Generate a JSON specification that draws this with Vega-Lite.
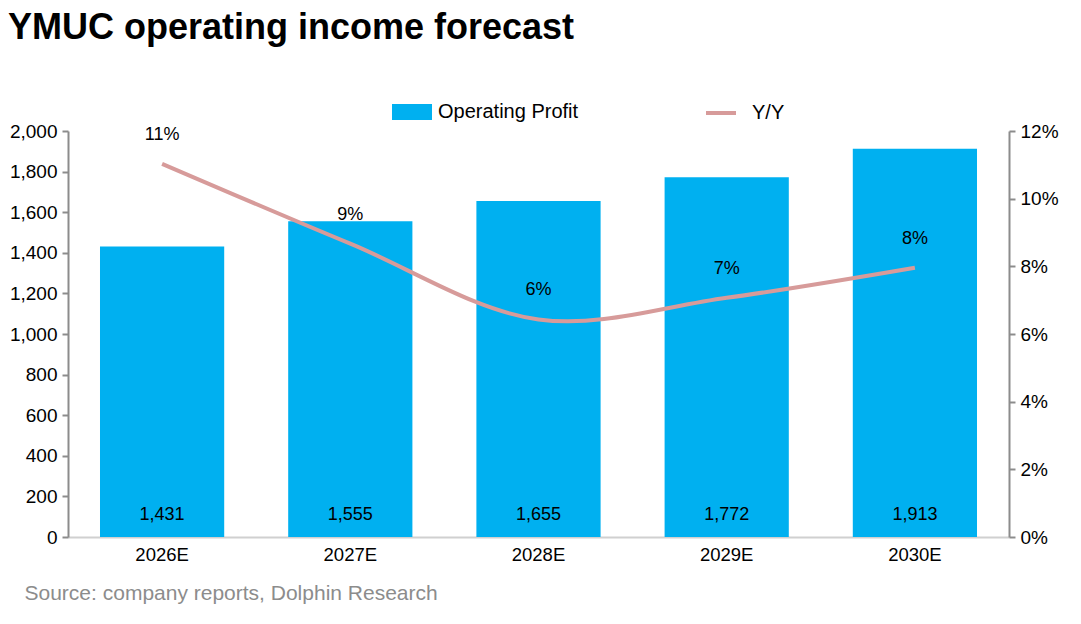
{
  "$schema": "https://vega.github.io/schema/vega-lite/v6.json",
  "width": 941,
  "height": 406,
  "autosize": {"type": "none"},
  "padding": {"left": 68, "top": 131, "right": 72, "bottom": 87},
  "background": "white",
  "title": {
    "text": "YMUC operating income forecast",
    "anchor": "start",
    "frame": "group",
    "fontSize": 36,
    "fontWeight": "bold",
    "font": "Liberation Sans",
    "color": "#000000",
    "dx": -60,
    "dy": -41
  },
  "data": {
    "values": [
      {"year": "2026E", "profit": 1431, "yoy": 0.1103},
      {"year": "2027E", "profit": 1555, "yoy": 0.0867},
      {"year": "2028E", "profit": 1655, "yoy": 0.0643},
      {"year": "2029E", "profit": 1772, "yoy": 0.0707},
      {"year": "2030E", "profit": 1913, "yoy": 0.0796}
    ]
  },
  "encoding": {
    "x": {
      "field": "year",
      "type": "nominal",
      "sort": null,
      "scale": {"paddingInner": 0.34, "paddingOuter": 0.17},
      "axis": {
        "labelAngle": 0,
        "labelFontSize": 18.5,
        "labelColor": "#000000",
        "labelPadding": 8,
        "ticks": false,
        "domainColor": "#d0d0d0",
        "domainWidth": 2,
        "title": "Source: company reports, Dolphin Research",
        "titleAnchor": "start",
        "titleAlign": "left",
        "titleX": -44,
        "titleY": 45,
        "titleFontSize": 21,
        "titleFontWeight": "normal",
        "titleColor": "#8c8c8c"
      }
    }
  },
  "layer": [
    {
      "layer": [
        {
          "mark": {"type": "bar", "color": "#00B0F0"},
          "encoding": {
            "y": {
              "field": "profit",
              "type": "quantitative",
              "scale": {"domain": [0, 2000]},
              "axis": {
                "orient": "left",
                "title": null,
                "values": [0, 200, 400, 600, 800, 1000, 1200, 1400, 1600, 1800, 2000],
                "format": ",.0f",
                "grid": false,
                "labelFontSize": 19,
                "labelColor": "#000000",
                "domainColor": "#8c8c8c",
                "domainWidth": 2,
                "tickColor": "#8c8c8c",
                "tickWidth": 2,
                "tickSize": 6,
                "labelPadding": 5
              }
            },
            "fill": {
              "datum": "Operating Profit",
              "scale": {"range": ["#00B0F0"]},
              "legend": {
                "title": null,
                "orient": "none",
                "legendX": 324,
                "legendY": -39,
                "symbolType": "M-1,-0.4H1V0.4H-1Z",
                "symbolSize": 1600,
                "symbolStrokeWidth": 0,
                "labelFontSize": 20,
                "labelColor": "#000000",
                "labelOffset": 6
              }
            }
          }
        },
        {
          "mark": {"type": "text", "fontSize": 18, "color": "#000000", "dy": -22, "font": "Liberation Sans"},
          "encoding": {
            "y": {"datum": 0, "type": "quantitative"},
            "text": {"field": "profit", "type": "quantitative", "format": ","}
          }
        }
      ]
    },
    {
      "layer": [
        {
          "mark": {"type": "line", "interpolate": "catmull-rom", "strokeWidth": 4, "color": "#D79B9A"},
          "encoding": {
            "y": {
              "field": "yoy",
              "type": "quantitative",
              "scale": {"domain": [0, 0.12]},
              "axis": {
                "orient": "right",
                "title": null,
                "values": [0, 0.02, 0.04, 0.06, 0.08, 0.1, 0.12],
                "format": ".0%",
                "grid": false,
                "labelFontSize": 19,
                "labelColor": "#000000",
                "domainColor": "#8c8c8c",
                "domainWidth": 2,
                "tickColor": "#8c8c8c",
                "tickWidth": 2,
                "tickSize": 6,
                "labelPadding": 5
              }
            },
            "stroke": {
              "datum": "Y/Y",
              "scale": {"range": ["#D79B9A"]},
              "legend": {
                "title": null,
                "orient": "none",
                "legendX": 636,
                "legendY": -35,
                "symbolType": "stroke",
                "symbolSize": 900,
                "symbolStrokeWidth": 4,
                "labelFontSize": 20,
                "labelColor": "#000000",
                "labelOffset": 14
              }
            }
          }
        },
        {
          "mark": {"type": "text", "fontSize": 18, "color": "#000000", "dy": -29, "font": "Liberation Sans"},
          "encoding": {
            "y": {"field": "yoy", "type": "quantitative"},
            "text": {"field": "yoy", "type": "quantitative", "format": ".0%"}
          }
        }
      ]
    }
  ],
  "resolve": {"scale": {"y": "independent", "fill": "independent", "stroke": "independent"}},
  "config": {
    "font": "Liberation Sans",
    "view": {"stroke": null},
    "axis": {"labelFont": "Liberation Sans", "titleFont": "Liberation Sans"},
    "legend": {"labelFont": "Liberation Sans", "padding": 0}
  }
}
